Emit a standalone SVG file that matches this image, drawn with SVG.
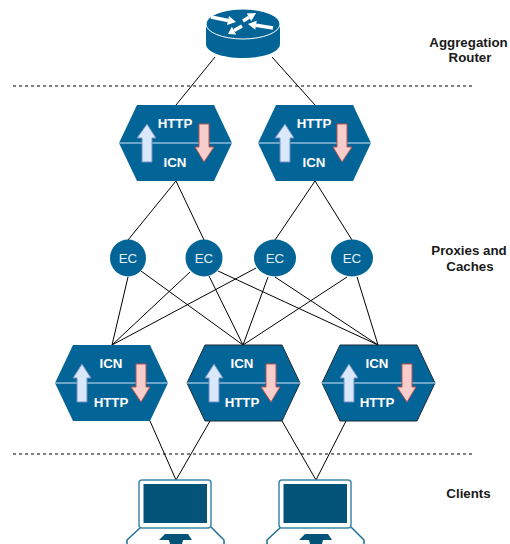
<svg xmlns="http://www.w3.org/2000/svg" width="510" height="544" viewBox="0 0 510 544">
<style>
.c{stroke:#000;stroke-width:1;fill:none}
.d{stroke:#000;stroke-width:1;fill:none;stroke-dasharray:3 3}
.hex{fill:#036498}
.hexd{fill:#036498;stroke:#1c2b36;stroke-width:1}
.mid{stroke:#8fbcd8;stroke-width:1.5;fill:none}
.up{fill:#dae8fc;stroke:#6c8ebf;stroke-width:1}
.down{fill:#f8cecc;stroke:#b85450;stroke-width:1}
.t{font-family:"Liberation Sans",Arial,sans-serif;font-size:13.300px;font-weight:700;fill:#fff;text-anchor:middle}
.ec{fill:#036498}
.et{font-family:"Liberation Sans",Arial,sans-serif;font-size:13.300px;fill:#e3eef5;text-anchor:middle}
.l{font-family:"Liberation Sans",Arial,sans-serif;font-size:13.300px;font-weight:700;fill:#1a1a1a;text-anchor:middle}
.scr{fill:#fff;stroke:#3f86a8;stroke-width:1.5}
.in{fill:#035478}
.base{fill:none;stroke:#1f6f98;stroke-width:1.5}
.ra{stroke:#fff;stroke-width:3.500;fill:none}
.rh{fill:#fff}
</style>
<g id="connectors">
<path class="d" d="M13 86H472M13 454H472"/>
<path class="c" d="M215 57L176 105M272 57L315 105"/>
<path class="c" d="M176 181L128 240M176 181L204 240M315 181L275 240M315 181L352 240"/>
<path class="c" d="M128 277L112 345M190 272L112 345M256 268L112 345"/>
<path class="c" d="M141 271L243 345M209 276L243 345M268 277L243 345M347 277L243 345"/>
<path class="c" d="M218 271L378 345M275 277L378 345M357 277L378 345"/>
<path class="c" d="M150 421L176 480M210 421L176 480M282 421L316 480M346 421L316 480"/>
</g>
<g id="router">
<path fill="#036498" d="M206 24V44C206 52 222 58 243 58S280 52 280 44V24Z"/>
<ellipse cx="243" cy="24" rx="37" ry="15" fill="#036498" stroke="#fff" stroke-width="1"/>
<path class="ra" d="M211 17L228 20.500M243 21L249 17.300M273 28L256 25.300M242 26L234 30.600"/>
<path class="rh" d="M236 22L227 25L229 16ZM256 13L251.300 21L246.700 13.500ZM248 24L256.700 20.800L255.300 29.800ZM228 34L236.200 34.500L231.800 26.700Z"/>
</g>
<g id="http-icn-1">
<path class="hex" d="M137 105H214L232 143L214 181H137L119 143Z"/>
<path class="mid" d="M119 143H232"/>
<path class="up" d="M147 124L156 138H152V162H142V138H137Z"/>
<path class="down" d="M199 124H209V147H214L204 162L195 147H199Z"/>
<text class="t" x="175" y="127.500">HTTP</text>
<text class="t" x="175" y="167">ICN</text>
</g>
<g id="http-icn-2">
<path class="hex" d="M276 105H353L371 143L353 181H276L258 143Z"/>
<path class="mid" d="M258 143H371"/>
<path class="up" d="M285 124L294 138H290V162H280V138H275Z"/>
<path class="down" d="M337 124H347V147H352L342 162L333 147H337Z"/>
<text class="t" x="314" y="127.500">HTTP</text>
<text class="t" x="314" y="167">ICN</text>
</g>
<g id="ec-1"><ellipse class="ec" cx="128" cy="258" rx="18" ry="18.500"/><text class="et" x="128" y="262.500">EC</text></g>
<g id="ec-2"><ellipse class="ec" cx="204" cy="258" rx="18.500" ry="18.500"/><text class="et" x="204" y="262.500">EC</text></g>
<g id="ec-3"><ellipse class="ec" cx="275" cy="258" rx="21" ry="18.500"/><text class="et" x="275" y="262.500">EC</text></g>
<g id="ec-4"><ellipse class="ec" cx="352" cy="258" rx="21" ry="18.500"/><text class="et" x="352" y="262.500">EC</text></g>
<g id="icn-http-1">
<path class="hex" d="M73 345H150L168 383L150 421H73L55 383Z"/>
<path class="mid" d="M55 383H168"/>
<path class="up" d="M82 364L91 378H87V402H77V378H73Z"/>
<path class="down" d="M136 364H146V387H150L141 402L131 387H136Z"/>
<text class="t" x="111" y="367.500">ICN</text>
<text class="t" x="111" y="407">HTTP</text>
</g>
<g id="icn-http-2">
<path class="hexd" d="M205 345H282L300 383L282 421H205L187 383Z"/>
<path class="mid" d="M187 383H300"/>
<path class="up" d="M214 364L223 378H219V402H209V378H205Z"/>
<path class="down" d="M266 364H276V387H280L271 402L261 387H266Z"/>
<text class="t" x="242" y="367.500">ICN</text>
<text class="t" x="242" y="407">HTTP</text>
</g>
<g id="icn-http-3">
<path class="hexd" d="M340 345H417L435 383L417 421H340L322 383Z"/>
<path class="mid" d="M322 383H435"/>
<path class="up" d="M349 364L358 378H354V402H344V378H340Z"/>
<path class="down" d="M402 364H412V387H416L407 402L397 387H402Z"/>
<text class="t" x="377" y="367.500">ICN</text>
<text class="t" x="377" y="407">HTTP</text>
</g>
<g id="client-1">
<path class="base" d="M141 527L127 540V544M211 527L224 540V544"/>
<rect class="scr" x="139" y="480" width="72" height="48" rx="3"/>
<rect class="in" x="143.500" y="484" width="63.500" height="39"/>
<path class="in" d="M165 534H188L192 540H183L182 544H170L169 540H159Z"/>
</g>
<g id="client-2">
<path class="base" d="M281 527L267 540V544M351 527L364 540V544"/>
<rect class="scr" x="279" y="480" width="72" height="48" rx="3"/>
<rect class="in" x="283.500" y="484" width="63.500" height="39"/>
<path class="in" d="M305 534H328L332 540H323L322 544H310L309 540H299Z"/>
</g>
<g id="labels">
<text class="l" x="468.500" y="47">Aggregation</text>
<text class="l" x="470" y="62">Router</text>
<text class="l" x="469" y="255">Proxies and</text>
<text class="l" x="470" y="271">Caches</text>
<text class="l" x="468.500" y="498">Clients</text>
</g>
</svg>
